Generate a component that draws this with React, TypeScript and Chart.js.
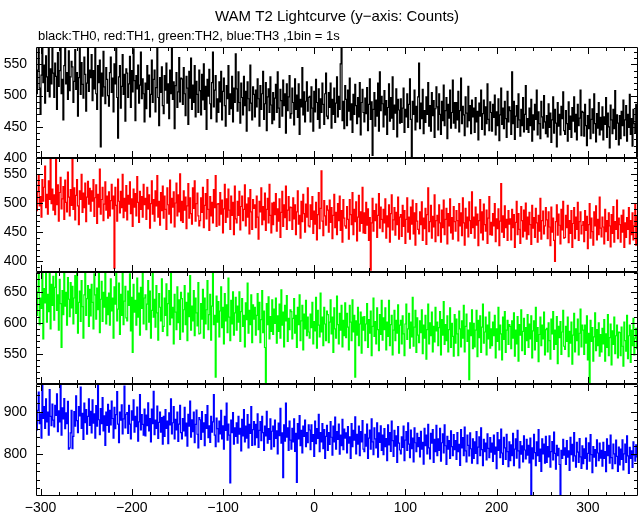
import React, { useEffect, useRef } from "react";
import { Chart, registerables } from "chart.js";

Chart.register(...registerables);

const TITLE = "WAM T2 Lightcurve (y\u2212axis: Counts)";
const SUBTITLE = "black:TH0, red:TH1, green:TH2, blue:TH3 ,1bin = 1s";

// first bin time (s), 1 bin = 1 s
const BIN_START = -305;

// TH0 (black) counts per 1 s bin
const TH0 = [
  558,503,541,586,512,470,533,595,521,549,488,564,530,507,577,498,543,519,601,536,
  497,552,531,478,569,515,540,592,503,526,461,548,583,519,537,494,572,508,530,555,
  546,489,523,574,510,537,467,529,581,502,553,518,496,562,534,475,520,588,507,541,
  529,566,492,540,511,584,503,478,548,521,557,418,536,499,571,514,487,545,526,500,
  483,537,562,505,528,474,551,519,590,497,432,530,548,480,515,566,502,534,459,543,
  536,497,519,563,481,540,506,575,524,460,532,511,549,488,517,570,495,527,503,458,
  520,479,548,510,533,466,502,557,489,526,541,474,513,580,497,452,529,505,546,484,
  471,532,509,552,488,519,463,541,503,578,494,522,447,516,537,481,506,561,490,528,
  527,486,545,503,468,531,512,454,539,496,560,478,517,489,548,466,523,502,473,541,
  508,469,534,493,551,478,515,446,526,499,542,487,463,521,570,482,509,532,458,495,
  473,522,490,539,461,507,528,484,451,516,495,548,470,503,479,531,458,512,489,567,
  511,475,538,489,456,520,497,469,531,484,507,443,522,495,476,549,488,461,514,502,
  466,509,482,527,495,451,516,478,503,539,462,487,521,444,498,511,473,530,485,455,
  505,461,496,518,473,538,480,449,510,492,467,525,484,503,440,519,476,498,532,464,
  471,512,489,453,527,478,501,465,519,438,494,482,545,469,506,458,491,522,475,497,
  499,458,514,480,443,507,474,526,489,462,511,448,495,473,520,486,454,503,536,467,
  463,505,481,520,448,494,470,512,457,488,530,466,499,478,551,578,460,491,447,516,
  494,452,509,475,528,461,487,441,502,470,518,484,455,497,466,521,437,489,510,473,
  458,496,471,513,444,486,527,462,490,404,478,505,451,493,467,520,443,538,476,499,
  487,450,508,469,492,438,481,519,459,497,464,530,446,485,472,511,434,494,477,456,
  495,457,480,512,441,478,466,503,449,486,527,462,402,491,470,509,445,483,458,498,
  552,447,488,463,510,439,476,457,498,470,521,451,484,443,505,468,492,433,479,514,
  482,445,503,470,438,491,460,517,452,476,497,431,486,464,509,448,473,525,456,489,
  448,489,461,507,442,476,528,455,483,469,436,498,472,450,515,460,484,439,493,466,
  480,441,497,458,475,429,488,467,509,446,471,493,437,482,455,519,462,444,490,473,
  443,486,465,501,437,474,452,495,428,469,512,454,480,447,491,463,433,507,458,482,
  476,438,538,455,491,430,467,484,449,503,461,435,478,452,497,442,470,516,446,463,
  441,480,452,494,427,469,445,486,462,509,437,474,455,431,491,466,448,500,458,439,
  468,434,487,449,472,425,461,498,440,478,456,418,489,451,470,437,483,463,506,444,
  438,476,455,427,490,446,467,433,481,459,498,442,470,429,486,452,464,509,436,475,
  473,435,486,452,420,468,447,494,431,462,479,440,503,455,426,471,448,489,437,465,
  445,482,429,466,454,497,433,472,450,416,485,461,439,478,447,508,430,469,456,421,
  468,431,475,452,493,436,461,484,427,470,449,502,438,463,419,478,455,441,486,401,
];

// TH1 (red)
const TH1 = [
  532,487,519,548,495,511,476,540,503,527,563,492,515,481,538,506,577,499,524,488,
  514,480,577,497,531,469,518,544,490,507,528,472,539,501,485,553,510,478,523,496,
  577,489,526,471,513,540,495,463,521,506,549,484,517,492,534,468,510,537,498,525,
  486,521,503,540,477,509,531,465,515,493,558,481,506,527,470,498,536,488,512,474,
  519,478,504,532,490,512,388,527,496,469,541,503,483,520,492,549,475,508,486,530,
  471,513,498,536,482,507,460,524,493,516,478,545,501,467,520,489,511,476,532,497,
  508,472,527,490,514,457,499,538,481,506,469,521,495,547,476,503,462,518,487,529,
  474,512,489,455,526,497,481,539,466,508,493,519,459,500,534,478,514,485,550,470,
  503,467,521,488,510,456,495,533,474,509,482,464,526,491,538,469,499,517,478,461,
  470,509,484,527,458,496,516,473,540,489,453,511,478,501,466,523,492,547,460,498,
  499,462,518,481,505,449,490,532,467,507,476,524,488,455,512,479,501,446,529,473,
  466,503,479,520,454,494,512,470,489,531,461,498,476,509,447,523,485,455,506,491,
  497,458,512,476,438,503,485,526,463,494,471,517,453,489,508,466,532,479,449,500,
  463,501,480,516,452,490,469,507,441,484,520,460,497,475,529,455,488,511,470,493,
  492,455,509,473,497,446,485,521,464,479,440,503,468,515,482,450,498,476,526,461,
  459,497,472,511,448,486,464,501,437,480,518,456,491,555,469,444,504,478,462,495,
  488,450,505,467,492,439,479,515,458,484,446,499,470,512,453,487,433,506,474,461,
  457,494,472,438,506,480,463,518,446,489,468,502,435,476,513,452,485,465,527,449,
  483,448,501,462,490,436,475,385,466,508,452,487,470,498,441,479,516,457,493,472,
  451,489,466,507,440,478,459,497,433,482,514,454,471,492,445,484,463,510,438,476,
  480,443,496,460,487,431,472,509,450,476,438,493,464,505,447,483,428,499,469,455,
  447,485,463,502,436,474,456,491,429,480,526,451,468,496,440,477,459,514,434,470,
  479,444,497,466,433,488,458,505,446,472,491,430,482,461,507,449,475,438,494,468,
  452,487,470,435,499,461,483,444,509,466,428,491,457,476,442,502,470,448,519,458,
  476,440,493,462,481,427,470,506,449,485,437,498,463,452,488,431,474,511,446,467,
  445,482,461,499,434,473,456,490,427,469,533,450,478,441,495,458,472,436,487,464,
  473,437,489,458,480,424,467,503,446,482,455,431,494,470,442,488,452,500,438,476,
  446,484,463,429,496,457,475,441,491,466,433,479,452,508,438,470,486,447,461,492,
  471,439,485,459,427,493,450,474,436,400,468,497,445,481,462,430,489,454,503,440,
  441,479,458,496,432,470,448,487,424,465,492,439,476,455,501,436,468,485,447,462,
  468,434,487,453,477,422,463,499,440,474,451,428,485,461,495,437,472,446,510,457,
  442,476,459,430,489,451,470,436,483,461,425,480,448,494,433,468,455,505,439,474,
  463,433,479,450,488,424,466,441,475,455,492,430,470,446,483,437,461,498,428,478,
];

// TH2 (green)
const TH2 = [
  668,612,650,701,597,640,623,689,574,655,632,710,601,646,618,683,590,662,628,675,
  604,657,681,620,645,588,670,631,560,652,613,694,627,649,596,673,638,610,665,624,
  659,598,640,676,615,692,583,633,651,602,668,626,575,645,687,612,639,660,594,654,
  611,662,633,590,679,645,606,656,621,697,584,638,667,602,649,625,685,598,641,613,
  648,596,671,619,640,575,658,630,689,603,622,664,581,646,612,683,597,635,659,608,
  603,651,628,679,587,641,552,662,617,636,596,672,609,648,580,657,623,692,598,640,
  645,589,630,668,601,651,575,620,684,609,638,593,660,616,572,647,625,603,671,586,
  594,640,612,663,579,631,652,597,681,608,625,566,646,617,589,658,600,637,573,649,
  639,585,621,660,597,633,571,648,610,676,588,627,603,652,579,640,616,595,665,582,
  583,631,606,654,575,640,598,621,668,589,613,646,572,627,682,597,612,512,643,601,
  634,577,619,658,592,625,566,647,603,629,584,672,609,571,636,598,650,580,616,641,
  588,627,601,650,570,618,639,594,612,561,632,605,664,583,620,597,645,568,629,606,
  625,580,612,647,589,633,568,605,652,584,619,560,500,631,597,642,574,610,586,637,
  581,622,599,640,567,611,586,630,575,653,596,617,561,628,603,644,570,607,589,621,
  618,574,607,639,583,612,560,625,597,645,571,603,628,556,614,590,636,579,609,585,
  575,614,592,633,566,602,587,641,559,620,596,577,648,585,609,563,625,598,571,619,
  613,568,601,637,582,609,552,624,590,575,643,597,566,615,588,628,561,604,579,632,
  576,615,593,556,628,601,571,637,585,612,512,603,580,625,563,598,617,551,609,588,
  610,571,598,631,560,605,583,619,547,594,640,578,602,566,624,589,555,613,581,636,
  572,608,589,624,556,601,578,636,563,597,612,548,588,620,571,604,583,629,551,596,
  604,566,611,582,547,598,630,573,590,615,559,601,577,641,562,593,620,552,608,580,
  568,603,584,621,550,596,575,612,541,589,630,566,600,579,617,553,594,569,625,587,
  601,563,592,618,548,605,580,634,565,597,571,611,553,589,624,560,599,578,546,613,
  567,606,582,547,619,590,561,603,575,628,553,594,614,570,588,508,600,579,621,558,
  599,561,588,620,545,604,576,611,552,593,630,567,585,609,548,596,574,617,559,590,
  563,601,579,612,543,590,570,625,556,596,582,540,609,573,618,552,588,604,565,597,
  594,558,603,575,616,546,588,566,610,538,597,580,621,555,586,607,549,592,571,613,
  560,598,574,611,543,587,603,556,625,570,592,537,581,609,563,596,574,617,548,589,
  591,553,600,571,541,606,582,618,557,588,565,610,534,594,576,602,549,585,620,562,
  557,594,570,609,545,586,567,601,533,580,615,553,590,571,606,548,583,622,561,596,
  588,549,596,567,611,540,583,503,604,570,592,538,577,616,555,589,563,600,546,581,
  553,591,566,605,538,582,560,613,547,576,598,532,587,565,609,550,579,596,543,585,
  584,547,593,562,530,601,571,554,612,542,579,596,536,588,563,607,548,575,591,558,
];

// TH3 (blue)
const TH3 = [
  921,857,903,946,872,895,838,968,884,912,861,930,876,899,845,952,889,867,918,880,
  864,915,891,942,853,902,876,978,845,909,883,931,860,897,872,924,812,815,850,903,
  813,842,900,866,937,879,851,912,890,958,861,896,835,920,874,905,847,889,930,868,
  901,850,928,873,895,838,914,866,962,881,846,907,872,933,855,890,821,899,868,917,
  852,903,869,925,884,838,910,860,893,947,871,827,899,880,916,848,883,960,862,894,
  898,849,915,871,836,902,880,928,852,889,865,911,831,876,940,857,893,870,845,906,
  843,892,867,921,855,884,829,906,872,948,846,880,861,913,837,875,899,852,886,824,
  889,842,905,861,878,825,897,869,930,848,874,912,836,882,857,899,830,871,915,851,
  836,884,855,910,843,873,819,894,866,925,840,881,853,899,827,870,904,847,815,886,
  881,835,900,852,874,820,893,861,914,839,867,828,889,852,876,940,845,818,885,860,
  829,878,848,903,836,867,812,889,856,920,833,871,845,733,880,851,898,824,862,842,
  874,826,889,847,861,808,882,843,905,829,866,838,893,815,870,849,912,821,858,877,
  822,870,839,895,816,856,877,832,889,851,809,866,843,901,826,860,835,883,812,854,
  866,818,880,837,855,801,873,844,908,826,850,745,869,831,920,840,862,809,878,833,
  812,861,829,883,807,849,734,872,836,891,820,856,803,866,842,880,818,851,827,869,
  857,811,869,830,846,795,878,825,860,837,894,806,851,829,872,813,858,790,842,868,
  809,851,823,877,840,798,866,829,887,812,853,835,871,800,845,820,882,811,859,838,
  850,803,865,826,841,790,872,818,856,833,888,801,847,824,866,797,853,829,879,812,
  806,847,819,871,790,838,857,812,883,829,799,862,836,815,874,793,850,828,867,809,
  845,799,860,818,837,785,869,822,851,807,878,832,795,856,819,843,781,865,826,810,
  801,841,816,866,785,833,853,809,874,824,792,857,813,838,782,862,827,806,849,818,
  839,794,854,812,828,777,861,820,845,801,870,815,789,849,826,858,781,835,806,868,
  797,836,809,861,784,827,848,803,869,820,776,842,812,832,790,855,818,797,846,811,
  832,788,851,806,823,774,858,815,839,797,864,808,782,845,821,796,850,813,779,836,
  790,829,802,853,778,817,841,797,862,811,773,835,806,826,787,848,814,792,839,805,
  826,783,845,800,817,766,851,809,834,792,859,803,776,840,815,788,847,806,771,829,
  785,822,797,849,773,812,836,791,856,808,768,830,800,820,782,843,810,789,835,798,
  821,780,838,706,815,789,847,804,773,829,797,858,783,812,760,836,801,824,779,842,
  781,818,794,843,770,806,830,787,852,802,765,821,797,814,776,702,809,790,835,798,
  815,776,832,793,808,762,840,799,823,784,851,796,770,828,805,781,837,794,767,820,
  778,813,790,838,765,802,827,784,846,799,757,818,793,811,772,834,803,785,826,791,
  809,772,828,790,806,759,836,797,821,779,845,792,766,824,801,778,833,795,760,817,
  775,812,788,834,763,801,824,781,843,796,755,816,790,808,769,829,798,784,822,794,
];

const X_MIN = -305;
const X_MAX = 355;
const X_MAJOR = 100;
const X_MINOR = 20;

const PANELS = [
  { id: "y0", series: TH0, color: "#000000", min: 400, max: 578, major: 50, minor: 10, h: 111 },
  { id: "y1", series: TH1, color: "#ff0000", min: 382, max: 577, major: 50, minor: 10, h: 114 },
  { id: "y2", series: TH2, color: "#00ff00", min: 501, max: 682, major: 50, minor: 10, h: 112 },
  { id: "y3", series: TH3, color: "#0000ff", min: 702, max: 965, major: 100, minor: 20, h: 112 },
];

const FONT_FAMILY = '"Liberation Sans", Arial, Helvetica, sans-serif';

const framePlugin = {
  id: "pgframes",
  afterDatasetsDraw(chart: any) {
    const ctx = chart.ctx;
    const xs = chart.scales.x;
    const L = Math.round(chart.chartArea.left);
    const R = Math.round(chart.chartArea.right);
    ctx.save();
    ctx.strokeStyle = "#000";
    ctx.lineWidth = 1;
    PANELS.forEach((p) => {
      const ys = chart.scales[p.id];
      const T = Math.round(ys.top);
      const B = Math.round(ys.bottom);
      ctx.beginPath();
      ctx.rect(L + 0.5, T + 0.5, R - L - 1, B - T - 1);
      ctx.stroke();
      ctx.beginPath();
      const start = Math.ceil(p.min / p.minor) * p.minor;
      for (let v = start; v <= p.max; v += p.minor) {
        const py = Math.round(ys.getPixelForValue(v)) + 0.5;
        const len = v % p.major === 0 ? 7 : 4;
        ctx.moveTo(L, py);
        ctx.lineTo(L + len, py);
        ctx.moveTo(R, py);
        ctx.lineTo(R - len, py);
      }
      const xs0 = Math.ceil(X_MIN / X_MINOR) * X_MINOR;
      for (let v = xs0; v <= X_MAX; v += X_MINOR) {
        const px = Math.round(xs.getPixelForValue(v)) + 0.5;
        const len = v % X_MAJOR === 0 ? 7 : 4;
        ctx.moveTo(px, T);
        ctx.lineTo(px, T + len);
        ctx.moveTo(px, B);
        ctx.lineTo(px, B - len);
      }
      ctx.stroke();
    });
    ctx.restore();
  },
  afterDraw(chart: any) {
    const ctx = chart.ctx;
    const a = chart.chartArea;
    ctx.save();
    ctx.fillStyle = "#000";
    ctx.textBaseline = "middle";
    ctx.font = `15px ${FONT_FAMILY}`;
    ctx.textAlign = "center";
    ctx.fillText(TITLE, (a.left + a.right) / 2, 17);
    ctx.font = `13px ${FONT_FAMILY}`;
    ctx.textAlign = "left";
    ctx.fillText(SUBTITLE, a.left + 2, 36);
    ctx.restore();
  },
};

export default function App() {
  const ref = useRef<HTMLCanvasElement>(null);

  useEffect(() => {
    if (!ref.current) return;
    const times = TH0.map((_, i) => BIN_START + i);
    const scales: any = {
      x: {
        type: "linear",
        min: X_MIN,
        max: X_MAX,
        grid: { display: false, drawTicks: false },
        border: { display: false },
        ticks: {
          stepSize: X_MAJOR,
          includeBounds: false,
          autoSkip: false,
          maxRotation: 0,
          padding: 4,
          color: "#000",
          font: { family: FONT_FAMILY, size: 14 },
          callback: (v: any) => String(v).replace("-", "\u2212"),
        },
        afterFit(s: any) {
          s.height = 19;
        },
      },
    };
    PANELS.forEach((p, i) => {
      scales[p.id] = {
        type: "linear",
        position: "left",
        stack: "wam",
        stackWeight: p.h,
        weight: PANELS.length - i,
        min: p.min,
        max: p.max,
        grid: { display: false, drawTicks: false },
        border: { display: false },
        ticks: {
          stepSize: p.major,
          includeBounds: false,
          autoSkip: false,
          padding: 9,
          color: "#000",
          font: { family: FONT_FAMILY, size: 14 },
        },
        afterFit(s: any) {
          s.width = 36;
        },
      };
    });
    const chart = new Chart(ref.current, {
      type: "line",
      data: {
        datasets: PANELS.map((p) => ({
          label: p.id,
          data: p.series.map((v, i) => ({ x: times[i], y: v })),
          yAxisID: p.id,
          xAxisID: "x",
          borderColor: p.color,
          backgroundColor: p.color,
          borderWidth: 1.2,
          pointRadius: 0,
          stepped: "middle",
          fill: false,
        })),
      },
      options: {
        responsive: false,
        animation: false,
        events: [],
        layout: { padding: { top: 47, right: 5, left: 0, bottom: 0 } },
        plugins: {
          legend: { display: false },
          title: { display: false },
          tooltip: { enabled: false },
        },
        scales,
      },
      plugins: [framePlugin],
    } as any);
    return () => chart.destroy();
  }, []);

  return (
    <div style={{ position: "absolute", left: 0, top: 0, width: 643, height: 515, background: "#fff" }}>
      <canvas ref={ref} width={643} height={515} style={{ display: "block" }} />
    </div>
  );
}
